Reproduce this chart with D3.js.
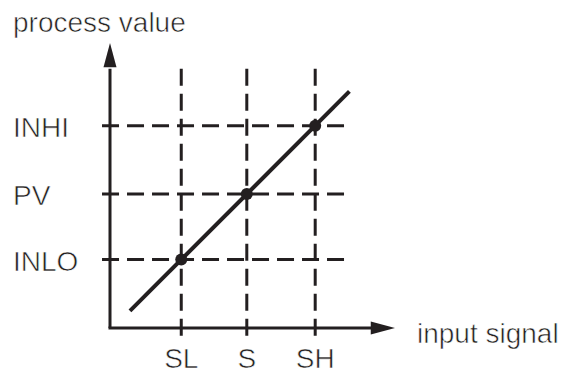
<!DOCTYPE html>
<html>
<head>
<meta charset="utf-8">
<script src="https://cdn.jsdelivr.net/npm/d3@7"></script>
<style>
  body { margin: 0; background: #fff; }
  text { font-family: "Liberation Sans", Arial, sans-serif; font-size: 28px; fill: #231f20;
         stroke: #fff; stroke-width: 0.6px; }
</style>
</head>
<body>
<script>
const width = 563, height = 373;

// input signal ticks
const signalLabels = ["SL", "S", "SH"];
const signalValues = [25, 48, 72];
// process value ticks
const pvLabels = ["INHI", "PV", "INLO"];
const pvValues = [71, 47, 24];
// transfer line end points [signal, pv]
const linePoints = [[7, 6], [84, 83]];
// marked points on the line
const markPoints = [[25, 24], [48, 47], [72, 71]];

const ink = "#231f20";

const x = d3.scaleLinear().domain([0, 100]).range([110, 395]);
const y = d3.scaleLinear().domain([0, 100]).range([328, 43]);

const svg = d3.select("body").append("svg")
    .attr("width", width)
    .attr("height", height);

// dashed guides
svg.append("g")
  .selectAll("line")
  .data(pvValues)
  .join("line")
    .attr("x1", x(-2.8)).attr("x2", x(82.5))
    .attr("y1", d => y(d)).attr("y2", d => y(d))
    .attr("stroke", ink)
    .attr("stroke-width", 3)
    .attr("stroke-dasharray", "17,8");

svg.append("g")
  .selectAll("line")
  .data(signalValues)
  .join("line")
    .attr("x1", d => x(d)).attr("x2", d => x(d))
    .attr("y1", y(91)).attr("y2", y(-3.2))
    .attr("stroke", ink)
    .attr("stroke-width", 3)
    .attr("stroke-dasharray", "17,8");

// axes with arrows
svg.append("line")
    .attr("x1", x(0)).attr("y1", y(0))
    .attr("x2", x(0)).attr("y2", y(91))
    .attr("stroke", ink).attr("stroke-width", 3);
svg.append("line")
    .attr("x1", x(0) - 1.5).attr("y1", y(0))
    .attr("x2", x(92)).attr("y2", y(0))
    .attr("stroke", ink).attr("stroke-width", 3);

svg.append("path")
    .attr("d", `M${x(0)},${y(100)} L${x(0) + 6.5},${y(91.5)} L${x(0) - 6.5},${y(91.5)} Z`)
    .attr("fill", ink);
svg.append("path")
    .attr("d", `M${x(100)},${y(0)} L${x(91.5)},${y(0) - 6.5} L${x(91.5)},${y(0) + 6.5} Z`)
    .attr("fill", ink);

// transfer line
svg.append("path")
    .datum(linePoints)
    .attr("d", d3.line().x(d => x(d[0])).y(d => y(d[1])))
    .attr("stroke", ink)
    .attr("stroke-width", 4)
    .attr("fill", "none");

svg.append("g")
  .selectAll("circle")
  .data(markPoints)
  .join("circle")
    .attr("cx", d => x(d[0]))
    .attr("cy", d => y(d[1]))
    .attr("r", 6)
    .attr("fill", ink);

// labels
svg.append("g")
  .selectAll("text")
  .data(pvValues)
  .join("text")
    .attr("x", 13)
    .attr("y", d => y(d) + 11)
    .text((d, i) => pvLabels[i]);

svg.append("g")
  .selectAll("text")
  .data(signalValues)
  .join("text")
    .attr("x", d => x(d))
    .attr("y", 368)
    .attr("text-anchor", "middle")
    .text((d, i) => signalLabels[i]);

svg.append("text")
    .attr("x", 13)
    .attr("y", 32)
    .text("process value");

svg.append("text")
    .attr("x", 417)
    .attr("y", 343)
    .text("input signal");
</script>
</body>
</html>
